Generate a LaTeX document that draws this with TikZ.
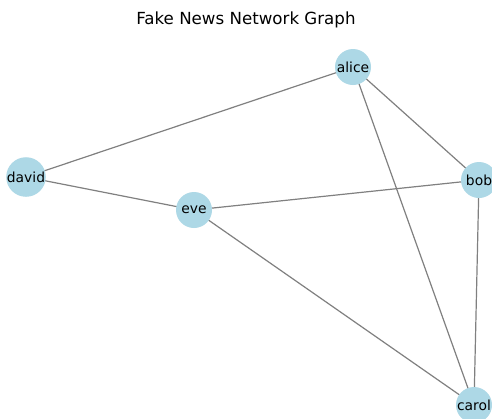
\documentclass[tikz,border=0pt]{standalone}
\usepackage{fontspec}
\setmainfont{DejaVu Sans}
\definecolor{nodeblue}{HTML}{ADD8E6}
\definecolor{edgegray}{HTML}{808080}
\begin{document}
\begin{tikzpicture}[x=0.75pt,y=-0.75pt,
  vertex/.style={circle,fill=nodeblue,draw=none,minimum size=27pt,inner sep=0pt,font=\fontsize{10.4}{12}\selectfont},
  edge/.style={edgegray,line width=0.9pt}]
\fill[white] (0,0) rectangle (492,418);
\useasboundingbox (0,0) rectangle (492,418);
\clip (0,0) rectangle (492,418);
\node[font=\fontsize{12.5}{14}\selectfont] (title) at (246,20) {Fake News Network Graph};
\coordinate (pa) at (353,67);
\coordinate (pb) at (479,180);
\coordinate (pc) at (474,405);
\coordinate (pd) at (26,177);
\coordinate (pe) at (194,210);
\draw[edge] (pa) -- (pd);
\draw[edge] (pa) -- (pb);
\draw[edge] (pa) -- (pc);
\draw[edge] (pd) -- (pe);
\draw[edge] (pe) -- (pb);
\draw[edge] (pe) -- (pc);
\draw[edge] (pb) -- (pc);
\node[vertex] (alice) at (pa) {alice};
\node[vertex] (bob) at (pb) {bob};
\node[vertex] (carol) at (pc) {carol};
\node[vertex] (david) at (pd) {david};
\node[vertex] (eve) at (pe) {eve};
\end{tikzpicture}
\end{document}
